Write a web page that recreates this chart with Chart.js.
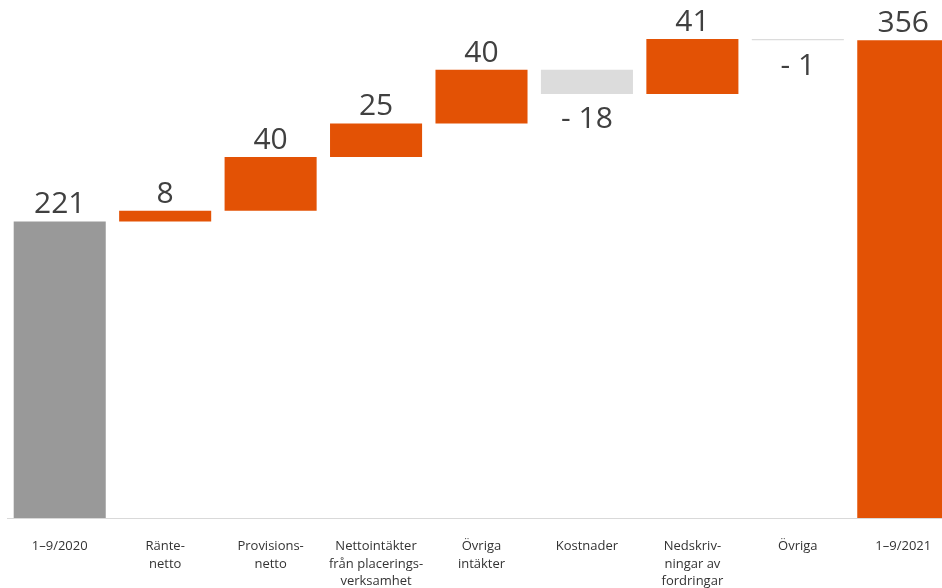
<!DOCTYPE html>
<html lang="sv">
<head>
<meta charset="utf-8">
<title>Resultatbrygga 1–9/2020 till 1–9/2021</title>
<script src="https://cdn.jsdelivr.net/npm/chart.js@4.4.1/dist/chart.umd.min.js"></script>
<style>
  html, body { margin: 0; padding: 0; background: #ffffff; overflow: hidden; }
  #wrap { width: 942px; height: 588px; overflow: hidden; }
  canvas { display: block; }
</style>
</head>
<body>
<div id="wrap">
  <canvas id="bridge-chart" width="956" height="588"></canvas>
</div>
<script>
const categories = [
  ['1–9/2020'],
  ['Ränte-', 'netto'],
  ['Provisions-', 'netto'],
  ['Nettointäkter', 'från placerings-', 'verksamhet'],
  ['Övriga', 'intäkter'],
  ['Kostnader'],
  ['Nedskriv-', 'ningar av', 'fordringar'],
  ['Övriga'],
  ['1–9/2021']
];
const startValue = 221;
const changes = [8, 40, 25, 40, -18, 41, -1];
const endValue = 356;

const ORANGE = '#e35205';
const GREY_TOTAL = '#999999';
const GREY_NEG = '#dcdcdc';

function buildBars() {
  const ranges = [[0, startValue]];
  const colors = [GREY_TOTAL];
  const labels = [String(startValue)];
  const negative = [false];
  let level = startValue;
  changes.forEach((c) => {
    const next = level + c;
    ranges.push([Math.min(level, next), Math.max(level, next)]);
    colors.push(c < 0 ? GREY_NEG : ORANGE);
    labels.push(c < 0 ? `- ${Math.abs(c)}` : String(c));
    negative.push(c < 0);
    level = next;
  });
  ranges.push([0, endValue]);
  colors.push(ORANGE);
  labels.push(String(endValue));
  negative.push(false);
  return { ranges, colors, labels, negative };
}

const bars = buildBars();

// value labels above (positive) or below (negative) each bar
const valueLabels = {
  id: 'valueLabels',
  afterDatasetsDraw(chart) {
    const ctx = chart.ctx;
    const meta = chart.getDatasetMeta(0);
    ctx.save();
    ctx.font = '30px "Open Sans", "Noto Sans", sans-serif';
    ctx.fillStyle = '#404040';
    ctx.textAlign = 'center';
    meta.data.forEach((el, i) => {
      const top = Math.min(el.y, el.base);
      const bottom = Math.max(el.y, el.base);
      if (bars.negative[i]) {
        ctx.textBaseline = 'top';
        ctx.fillText(bars.labels[i], el.x, bottom + 11);
      } else {
        ctx.textBaseline = 'alphabetic';
        ctx.fillText(bars.labels[i], el.x, top - 8);
      }
    });
    ctx.restore();
  }
};

new Chart(document.getElementById('bridge-chart'), {
  type: 'bar',
  data: {
    labels: categories,
    datasets: [{
      data: bars.ranges,
      backgroundColor: bars.colors,
      borderWidth: 0,
      categoryPercentage: 1,
      barPercentage: 0.873
    }]
  },
  options: {
    responsive: false,
    animation: false,
    layout: { padding: { left: 7, right: 0, top: 0, bottom: 0 } },
    plugins: {
      legend: { display: false },
      tooltip: { enabled: false }
    },
    scales: {
      x: {
        grid: { display: false, drawTicks: false },
        border: { display: true, color: '#d9d9d9', width: 1 },
        ticks: {
          color: '#333333',
          padding: 20,
          maxRotation: 0,
          autoSkip: false,
          font: { family: '"Open Sans", "Noto Sans", sans-serif', size: 13, lineHeight: 1.33 }
        },
        afterFit: (axis) => { axis.height = 70; }
      },
      y: {
        display: false,
        min: 0,
        max: 386
      }
    }
  },
  plugins: [valueLabels]
});
</script>
</body>
</html>
